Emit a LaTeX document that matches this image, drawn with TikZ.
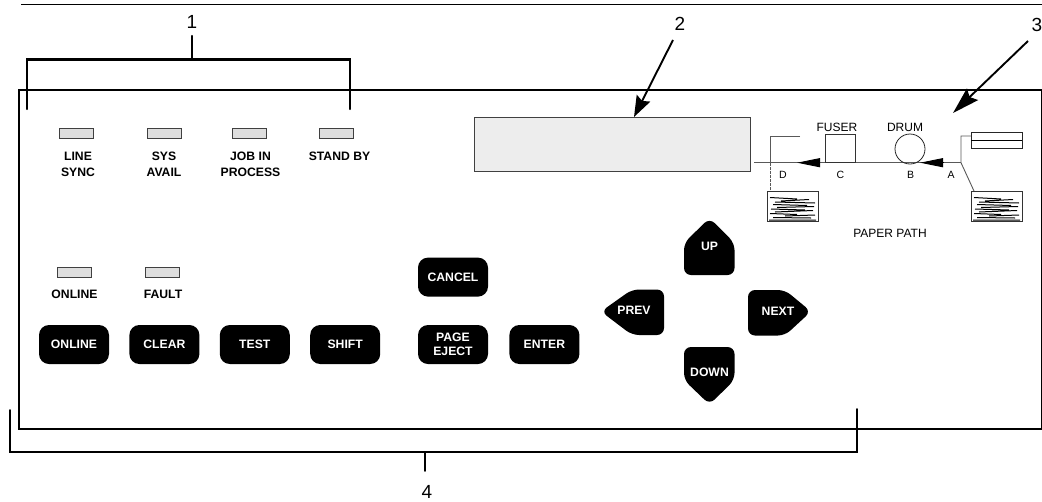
\documentclass[tikz,border=0pt]{standalone}
\usepackage{fontspec}
\setmainfont{Liberation Sans}
\usetikzlibrary{positioning,arrows.meta}

\begin{document}
\begin{tikzpicture}[
		x=1pt,y=-1pt,
		lamp/.style={ % indicator lamp
			draw=black!75, fill=black!13, line width=0.9pt,
			minimum width=34pt, minimum height=10.5pt, inner sep=0pt
		},
		lamplabel/.style={
			font=\fontsize{12.2}{16}\selectfont\bfseries, align=center, inner sep=0pt
		},
		key/.style={ % black push button
			fill=black, rounded corners=10pt, text=white,
			font=\fontsize{12.2}{14}\selectfont\bfseries, align=center,
			minimum width=70pt, minimum height=39pt, inner sep=0pt
		},
		keyshape/.style={fill=black, rounded corners=7pt},
		keytext/.style={text=white, font=\fontsize{12.2}{14}\selectfont\bfseries, inner sep=0pt},
		callout/.style={font=\fontsize{19}{20}\selectfont, inner sep=0pt},
		bracket/.style={line width=2.2pt, line cap=round},
		leader/.style={line width=1.9pt, -{Stealth[length=21pt,width=15pt,inset=3pt]}},
		pathtext/.style={font=\fontsize{12}{14}\selectfont, inner sep=0pt},
		stationtext/.style={font=\fontsize{10.5}{12}\selectfont, inner sep=0pt},
		pathline/.style={draw=black!65, line width=0.9pt},
		feedtip/.style={-{Triangle[length=23pt,width=9pt]}, line width=0.9pt, draw=black},
		paperstack/.pic={
			\draw[black!80, line width=0.8pt] (0,0) rectangle (51,30);
			\draw[line width=1pt] (3,6.5) -- (30,8) (42,8.5) -- (14,10) (8,11) -- (48,12) (6,13.5) -- (40,14.5);
			\draw[line width=1pt] (47,15.5) -- (10,16.5) (4,18) -- (38,19) (46,19.5) -- (8,21) (3,22.5) -- (30,23.5);
			\draw[line width=1pt] (48,24) -- (18,25) (6,26.5) -- (44,27) (2,29) -- (49,29);
		}
		]
		\useasboundingbox (0,0) rectangle (1042,501);

		%% rule and panel
		\coordinate (ruleL) at (21,4.5);
		\coordinate (ruleR) at (1042,4.5);
		\draw[line width=0.9pt] (ruleL) -- (ruleR);
		\node[draw, line width=1.7pt, minimum width=1023pt, minimum height=339pt, inner sep=0pt, anchor=north west] (panel) at (18,89) {};

		%% lamps, upper row
		\node[lamp] (lampLine) at (76.5,133.5) {};
		\node[lamp] (lampSys) at (164,133.5) {};
		\node[lamp] (lampJob) at (249.5,133.5) {};
		\node[lamp] (lampStand) at (336.5,133.5) {};
		\node[lamplabel, below=13pt of lampLine, xshift=1.5pt] (textLine) {LINE\\SYNC};
		\node[lamplabel, below=13pt of lampSys] (textSys) {SYS\\AVAIL};
		\node[lamplabel, below=13pt of lampJob, xshift=1pt] (textJob) {JOB IN\\PROCESS};
		\node[lamplabel, below=13pt of lampStand, xshift=3pt] (textStand) {STAND BY};

		%% lamps, lower row
		\node[lamp] (lampOnline) at (74.5,272.5) {};
		\node[lamp] (lampFault) at (162,272.5) {};
		\node[lamplabel, below=11.5pt of lampOnline] (textOnline) {ONLINE};
		\node[lamplabel, below=11.5pt of lampFault, xshift=1pt] (textFault) {FAULT};

		%% push buttons
		\node[key] (keyOnline) at (74,344.5) {ONLINE};
		\node[key, right=20pt of keyOnline] (keyClear) {CLEAR};
		\node[key, right=20pt of keyClear] (keyTest) {TEST};
		\node[key, right=20pt of keyTest] (keyShift) {SHIFT};
		\node[key] (keyEject) at (453,344.5) {PAGE\\EJECT};
		\node[key, right=21pt of keyEject] (keyEnter) {ENTER};
		\node[key, above=28pt of keyEject] (keyCancel) {CANCEL};

		%% arrow buttons
		\fill[keyshape] (709.5,218) -- (734.5,243) -- (734.5,275) -- (684,275) -- (684,243) -- cycle;
		\fill[keyshape] (709.5,404.5) -- (734.5,380) -- (734.5,347) -- (684,347) -- (684,380) -- cycle;
		\fill[keyshape] (601,311.5) -- (632,289.5) -- (664,289.5) -- (664,335) -- (632,335) -- cycle;
		\fill[keyshape] (811,311.5) -- (785,290) -- (748,290) -- (748,335.5) -- (785,335.5) -- cycle;
		\node[keytext] (keyUp) at (709.5,246.5) {UP};
		\node[keytext] (keyDown) at (709.5,372.5) {DOWN};
		\node[keytext] (keyPrev) at (634,310.5) {PREV};
		\node[keytext] (keyNext) at (778,311.5) {NEXT};

		%% display
		\node[draw=black!75, fill=black!7, line width=0.9pt, minimum width=276pt, minimum height=54pt, inner sep=0pt, anchor=north west] (display) at (474,117) {};

		%% paper path
		\coordinate (feedL) at (754,162.7);
		\coordinate (feedR) at (961,162.7);
		\coordinate (gateTop) at (770,136.5);
		\coordinate (gateEnd) at (800,136.5);
		\coordinate (gateLow) at (770,191);
		\coordinate (gateMid) at (770,162.7);
		\coordinate (supplyTop) at (961,136);
		\coordinate (tipC) at (797,162.7);
		\coordinate (baseC) at (819,162.7);
		\coordinate (tipB) at (920,162.7);
		\coordinate (baseB) at (944,162.7);
		\draw[pathline] (feedL) -- (feedR);
		\draw[pathline] (gateEnd) -- (gateTop) -- (gateMid);
		\draw[pathline, dash pattern=on 3pt off 1pt] (gateMid) -- (gateLow);
		\draw[feedtip] (baseC) -- (tipC);
		\draw[feedtip] (baseB) -- (tipB);
		\node[draw=black!80, line width=0.7pt, minimum width=30pt, minimum height=28pt, inner sep=0pt, anchor=south west] (fuser) at (824.5,163) {};
		\node[draw=black!85, line width=0.8pt, circle, minimum size=30pt, inner sep=0pt] (drum) at (910,149) {};
		\node[pathtext, above=2pt of fuser, xshift=-3pt] (textFuser) {FUSER};
		\node[pathtext] (textDrum) at (905,127.5) {DRUM};
		\node[stationtext] (textA) at (951,174.5) {A};
		\node[stationtext] (textB) at (910.5,174.5) {B};
		\node[stationtext] (textC) at (840.5,174.5) {C};
		\node[stationtext] (textD) at (783,174.5) {D};
		\node[pathtext] (textPath) at (890,233.5) {PAPER PATH};
		\node[draw=black!85, line width=0.8pt, minimum width=51pt, minimum height=16pt, inner sep=0pt, anchor=north west] (cassette) at (971,132) {};
		\coordinate (cassetteL) at (971,140);
		\coordinate (cassetteR) at (1022,140);
		\draw[line width=0.7pt] (cassetteL) -- (cassetteR);
		\coordinate (supplyEnd) at (971,136);
		\coordinate (trayCorner) at (974,191);
		\draw[pathline] (supplyEnd) -- (supplyTop) -- (feedR) -- (trayCorner);
		\pic at (767,191) {paperstack};
		\pic at (971,191) {paperstack};

		%% callouts
		\node[callout] (callA) at (192,22) {1};
		\coordinate (stemA) at (192,36);
		\coordinate (barA) at (192,59.5);
		\coordinate (barAL) at (27,59.5);
		\coordinate (barAR) at (350,59.5);
		\coordinate (endAL) at (27,109);
		\coordinate (endAR) at (350,109);
		\draw[bracket] (endAL) -- (barAL) -- (barAR) -- (endAR);
		\draw[bracket] (stemA) -- (barA);

		\node[callout] (callB) at (680,24) {2};
		\coordinate (startB) at (673,40);
		\coordinate (endB) at (634,117);
		\draw[leader] (startB) -- (endB);

		\node[callout] (callC) at (1037,25) {3};
		\coordinate (startC) at (1028,41);
		\coordinate (endC) at (953,113);
		\draw[leader, -{Stealth[length=27pt,width=16pt,inset=4pt]}] (startC) -- (endC);

		\node[callout] (callD) at (427,491.5) {4};
		\coordinate (stemD) at (425,471);
		\coordinate (barD) at (425,452);
		\coordinate (barDL) at (10,452);
		\coordinate (barDR) at (857,452);
		\coordinate (endDL) at (10,410);
		\coordinate (endDR) at (857,409);
		\draw[bracket, line width=1.9pt] (endDL) -- (barDL) -- (barDR) -- (endDR);
		\draw[bracket, line width=1.9pt] (stemD) -- (barD);
\end{tikzpicture}
\end{document}
